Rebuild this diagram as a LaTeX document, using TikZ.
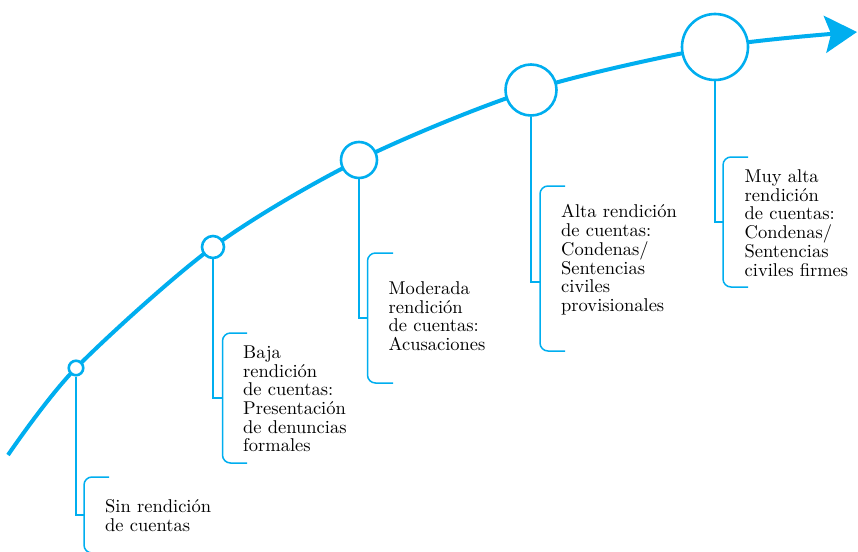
\documentclass[tikz,border=0pt]{standalone}
\usepackage{color}
\usepackage{tikz}
\usetikzlibrary{arrows.meta}
\definecolor{cyanline}{RGB}{0,174,239}
\DeclareFontFamily{TU}{lmten}{}
\DeclareFontShape{TU}{lmten}{m}{n}{<-> "[lmroman10-regular]:mapping=tex-text;"}{}

\begin{document}
\begin{tikzpicture}[x=1pt,y=-1pt,
  stage/.style={draw=cyanline,circle,fill=white,line width=2.6pt,inner sep=0pt},
  lbl/.style={anchor=north west,inner sep=0pt,align=left,font=\fontfamily{lmten}\fontsize{18.5}{18.7}\selectfont},
  tie/.style={draw=cyanline,line width=1.3pt},
  brace/.style={draw=cyanline,line width=1.5pt,rounded corners=8pt}]
\useasboundingbox (0,0) rectangle (858,551);
%\draw [thick,red,dashed] (0,0) rectangle (858,551);
\coordinate (s0) at (8,455);
\coordinate (s1) at (76,368);
\coordinate (s2) at (213,247);
\coordinate (s3) at (359,160);
\coordinate (s4) at (531,90);
\coordinate (s5) at (715,47);
\coordinate (s6) at (857,32);

\draw[cyanline,line width=4pt,-{Stealth[length=32pt,width=37pt,inset=6pt]}] plot[smooth] coordinates {(s0) (s1) (s2) (s3) (s4) (s5) (s6)};

\node [stage,minimum size=14.5pt] (c1) at (s1){};
\node [stage,minimum size=22pt] (c2) at (s2){};
\node [stage,minimum size=36pt] (c3) at (s3){};
\node [stage,minimum size=51pt] (c4) at (s4){};
\node [stage,minimum size=66pt] (c5) at (s5){};

\coordinate (j1) at (84,515);
\coordinate (j2) at (222.5,398);
\coordinate (j3) at (367.5,318);
\coordinate (j4) at (540,282);
\coordinate (j5) at (723,222);

\draw[tie](c1.south) |- (j1);
\draw[tie](c2.south) |- (j2);
\draw[tie](c3.south) |- (j3);
\draw[tie](c4.south) |- (j4);
\draw[tie](c5.south) |- (j5);

\draw[brace](109,477) -- (84,477) -- (84,553) -- (109,553);
\draw[brace](247,333) -- (222.5,333) -- (222.5,463) -- (247,463);
\draw[brace](393,253) -- (367.5,253) -- (367.5,383) -- (393,383);
\draw[brace](565,186) -- (540,186) -- (540,351) -- (565,351);
\draw[brace](748,157) -- (723,157) -- (723,287) -- (748,287);

\node [lbl] (t1) at(105,499.5){Sin rendición\\de cuentas};
\node [lbl] (t2) at(243,345.5){Baja\\rendición\\de cuentas:\\Presentación\\de denuncias\\formales};
\node [lbl] (t3) at(388.5,281.5){Moderada\\rendición\\de cuentas:\\Acusaciones};
\node [lbl] (t4) at(561,204.5){Alta rendición\\de cuentas:\\Condenas/\\Sentencias\\civiles\\provisionales};
\node [lbl] (t5) at(744.5,169.5){Muy alta\\rendición\\de cuentas:\\Condenas/\\Sentencias\\civiles firmes};

\end{tikzpicture}
\end{document}
